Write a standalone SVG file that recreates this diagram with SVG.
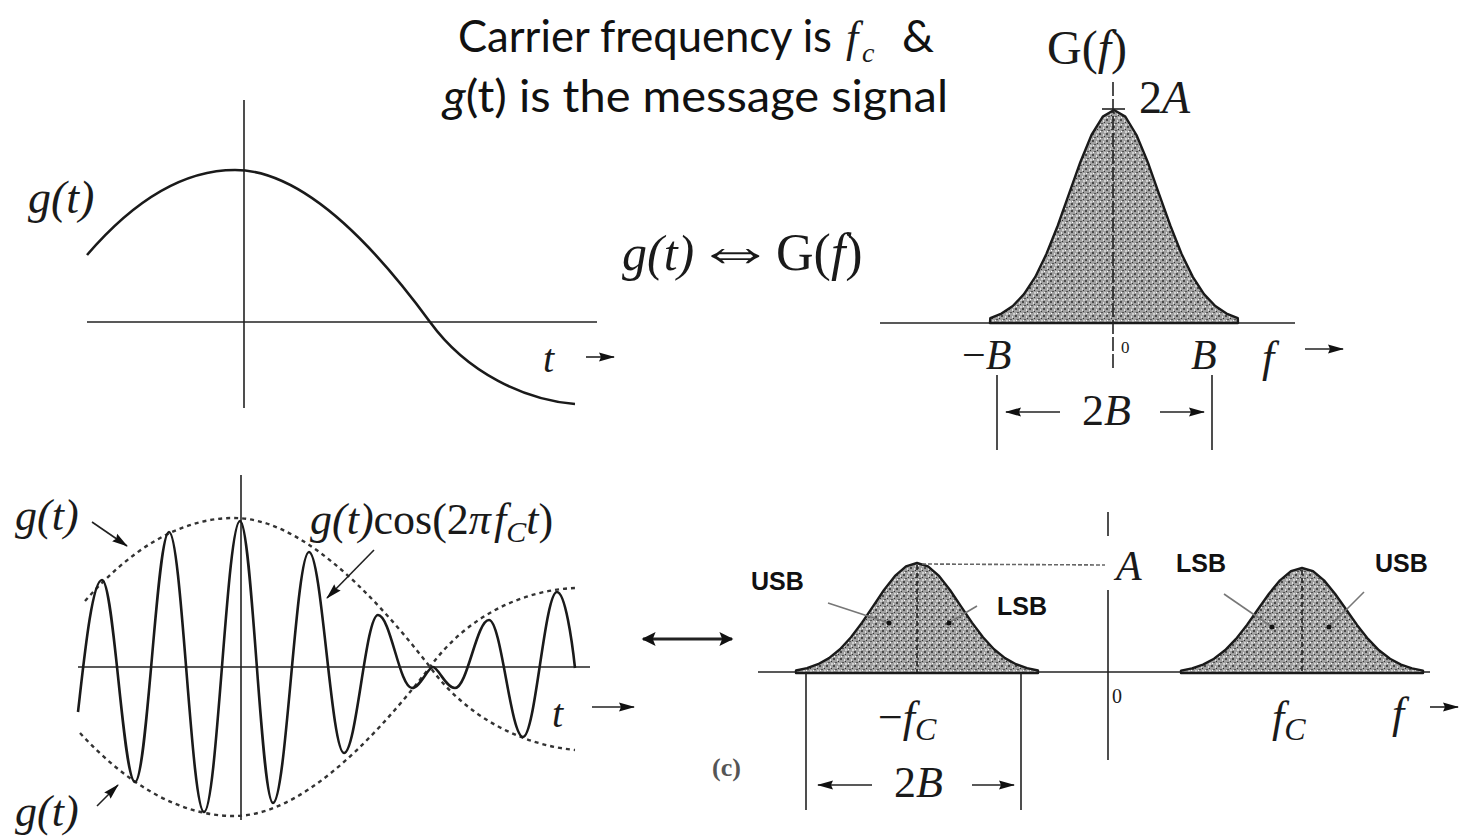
<svg xmlns="http://www.w3.org/2000/svg" width="1460" height="837" viewBox="0 0 1460 837">
<style>
.ax{stroke:#222;stroke-width:1.6;fill:none}
.crv{stroke:#1a1a1a;stroke-width:2.6;fill:none;stroke-linejoin:round}
.env{stroke:#333;stroke-width:2.4;fill:none;stroke-dasharray:4 4}
.hump{fill:url(#stip);stroke:#1a1a1a;stroke-width:2.4;stroke-linejoin:round}
.thin{stroke:#222;stroke-width:1.6;fill:none}
.ptr{stroke:#777;stroke-width:1.6;fill:none}
.mi{font-family:"Liberation Serif","DejaVu Serif",serif;font-style:italic;fill:#1a1a1a}
.mr{font-family:"Liberation Serif","DejaVu Serif",serif;fill:#1a1a1a}
.tt{font-family:Lato,"Open Sans","Liberation Sans",sans-serif;fill:#111}
.sb{font-family:"Liberation Sans",Arial,sans-serif;font-weight:bold;font-size:25px;fill:#111}
</style>
<defs>
<pattern id="stip" width="7" height="7" patternUnits="userSpaceOnUse">
<rect width="7" height="7" fill="#a0a0a0"/>
<rect x="0" y="0" width="2" height="2" fill="#4a4a4a"/>
<rect x="4" y="1" width="1" height="2" fill="#e2e2e2"/>
<rect x="2" y="4" width="2" height="1" fill="#555"/>
<rect x="5" y="5" width="2" height="2" fill="#d0d0d0"/>
<rect x="1" y="5" width="1" height="1" fill="#fff"/>
<rect x="5" y="3" width="1" height="1" fill="#333"/>
</pattern>
<marker id="ah" viewBox="0 0 16 10" refX="15" refY="5" markerWidth="16" markerHeight="10" orient="auto-start-reverse" markerUnits="userSpaceOnUse">
<path d="M0,0.5 L16,5 L0,9.5 L2,5 z" fill="#111"/>
</marker>
<marker id="ahb" viewBox="0 0 10 10" refX="9" refY="5" markerWidth="22" markerHeight="14" orient="auto-start-reverse" markerUnits="userSpaceOnUse">
<path d="M0,0 L10,5 L0,10 L2,5 z" fill="#111"/>
</marker>
</defs>
<rect width="1460" height="837" fill="#fff"/>

<g id="title">
<text class="tt" x="458" y="52" font-size="45" textLength="374" lengthAdjust="spacingAndGlyphs">Carrier frequency is</text>
<text class="mi" x="846" y="52" font-size="44">f</text>
<text class="mi" x="862" y="62" font-size="28">c</text>
<text class="tt" x="902" y="52" font-size="45">&amp;</text>
<text class="tt" x="443" y="112" font-size="45" textLength="505" lengthAdjust="spacingAndGlyphs"><tspan font-style="italic">g</tspan>(t) is the message signal</text>
</g>

<g id="message-signal">
<line class="ax" x1="244" y1="100" x2="244" y2="408"/>
<line class="ax" x1="87" y1="322" x2="597" y2="322"/>
<path class="crv" d="M87,255 C130,205 180,170 235,170 C300,170 370,240 430,322 C467,373 525,400 575,404"/>
<text class="mi" x="28" y="213" font-size="46">g(t)</text>
<text class="mi" x="543" y="372" font-size="40">t</text>
<line class="thin" x1="586" y1="357" x2="614" y2="357" marker-end="url(#ah)"/>
</g>

<g id="fourier-pair">
<text class="mi" x="622" y="270" font-size="50">g(t)</text>
<text class="mr" transform="translate(695,270) scale(1.35,1)" font-size="60">⇔</text>
<text class="mr" x="776" y="270" font-size="52">G(<tspan font-style="italic">f</tspan>)</text>
</g>

<g id="message-spectrum">
<line class="ax" x1="880" y1="323" x2="1295" y2="323"/>
<path class="hump" d="M990,323 L990.3,318.1 L1001.5,313.6 L1012.8,306.0 L1024,294.2 L1035.3,276.9 L1046.5,253.8 L1057.8,225.5 L1069,193.8 L1080.3,162.2 L1091.5,135.0 L1102.8,116.6 L1114,110 L1125.3,116.6 L1136.5,135.0 L1147.8,162.2 L1159,193.8 L1170.3,225.5 L1181.5,253.8 L1192.8,276.9 L1204,294.2 L1215.3,306.0 L1226.5,313.6 L1237.8,318.1 L1238,323 Z"/>
<line class="ax" x1="1113" y1="82" x2="1113" y2="368" stroke-dasharray="14 3"/>
<line class="ax" x1="1102" y1="109" x2="1125" y2="109"/>
<text class="mr" x="1047" y="64" font-size="48">G(<tspan font-style="italic">f</tspan>)</text>
<text class="mr" x="1139" y="113" font-size="46">2<tspan font-style="italic">A</tspan></text>
<text class="mr" x="962" y="369" font-size="42">−<tspan font-style="italic">B</tspan></text>
<text class="mr" x="1121" y="353" font-size="17">0</text>
<text class="mi" x="1191" y="369" font-size="42">B</text>
<text class="mi" x="1262" y="372" font-size="44">f</text>
<line class="thin" x1="1305" y1="349" x2="1343" y2="349" marker-end="url(#ah)"/>
<line class="ax" x1="997" y1="375" x2="997" y2="450"/>
<line class="ax" x1="1212" y1="375" x2="1212" y2="450"/>
<line class="thin" x1="1060" y1="412" x2="1006" y2="412" marker-end="url(#ah)"/>
<line class="thin" x1="1160" y1="412" x2="1204" y2="412" marker-end="url(#ah)"/>
<text class="mr" x="1082" y="425" font-size="44">2<tspan font-style="italic">B</tspan></text>
</g>

<g id="modulated-signal">
<line class="ax" x1="241" y1="475" x2="241" y2="820"/>
<line class="ax" x1="78" y1="667" x2="590" y2="667"/>
<path class="env" d="M85,601 C128,552 178,518 234,518 C298,518 368,587 430,667 C467,718 523,745 575,750"/>
<path class="env" d="M80,733 C125,782 178,816 234,816 C298,816 368,747 430,667 C467,616 523,590 575,588"/>
<path class="crv" d="M78,712 C84,660 92,580 102,580 C114,580 123,782 135,782 C147.4,782 156.6,532 169,532 C181.7,532 191.3,812 204,812 C217.1,812 226.9,521 240,521 C252,521 261,803 273,803 C286.1,803 295.9,552 309,552 C321.7,552 331.3,753 344,753 C356.4,753 365.6,615 378,615 C390.4,615 399.6,688 412,688 C420,688 428,667 433,667 C438,667 446,688 455,688 C467.4,688 476.6,620 489,620 C501.4,620 510.6,737 523,737 C535.4,737 544.6,592 557,592 C565,592 572,640 575,668"/>
<text class="mi" x="15" y="530" font-size="44">g(t)</text>
<line class="thin" x1="92" y1="522" x2="127" y2="546" marker-end="url(#ah)"/>
<text class="mi" x="15" y="826" font-size="44">g(t)</text>
<line class="thin" x1="97" y1="806" x2="118" y2="785" marker-end="url(#ah)"/>
<text class="mi" x="310" y="534" font-size="44">g(t)<tspan font-style="normal">cos(2</tspan>π<tspan dx="3">f</tspan><tspan font-size="30" dy="8">C</tspan><tspan dy="-8">t</tspan><tspan font-style="normal">)</tspan></text>
<line class="thin" x1="374" y1="550" x2="327" y2="598" marker-end="url(#ah)"/>
<text class="mi" x="552" y="727" font-size="40">t</text>
<line class="thin" x1="592" y1="707" x2="634" y2="707" marker-end="url(#ah)"/>
</g>

<g id="connectors">
<line stroke="#222" stroke-width="3" x1="643" y1="639" x2="732" y2="639" marker-start="url(#ahb)" marker-end="url(#ahb)"/>
</g>

<g id="modulated-spectrum">
<line class="ax" x1="758" y1="672" x2="1430" y2="672"/>
<path class="hump" d="M796,673 L796,670.5 L807,668.2 L818,664.2 L829,658.1 L840,649.2 L851,637.3 L862,622.6 L873,606.3 L884,590.0 L895,575.9 L906,566.4 L917,563 L928,566.4 L939,575.9 L950,590.0 L961,606.3 L972,622.6 L983,637.3 L994,649.2 L1005,658.1 L1016,664.2 L1027,668.2 L1038,670.5 L1038,673 Z"/>
<path class="hump" d="M1181,673 L1181,670.6 L1192,668.4 L1203,664.6 L1214,658.8 L1225,650.3 L1236,638.9 L1247,624.9 L1258,609.3 L1269,593.7 L1280,580.3 L1291,571.2 L1302,568 L1313,571.2 L1324,580.3 L1335,593.7 L1346,609.3 L1357,624.9 L1368,638.9 L1379,650.3 L1390,658.8 L1401,664.6 L1412,668.4 L1423,670.6 L1423,673 Z"/>
<line class="ax" x1="917" y1="565" x2="917" y2="672" stroke-dasharray="5 3"/>
<line class="ax" x1="1302" y1="570" x2="1302" y2="672" stroke-dasharray="5 3"/>
<line x1="922" y1="564" x2="1105" y2="565" stroke="#666" stroke-width="1.6" stroke-dasharray="4 2"/>
<line class="ax" x1="1108" y1="512" x2="1108" y2="536"/>
<line class="ax" x1="1108" y1="590" x2="1108" y2="760"/>
<text class="mi" x="1116" y="580" font-size="42">A</text>
<line class="ptr" x1="828" y1="603" x2="889" y2="623"/>
<line class="ptr" x1="977" y1="606" x2="950" y2="622"/>
<line class="ptr" x1="1224" y1="594" x2="1272" y2="627"/>
<line class="ptr" x1="1364" y1="592" x2="1329" y2="627"/>
<circle cx="889" cy="623" r="2.5" fill="#111"/>
<circle cx="949" cy="623" r="2.5" fill="#111"/>
<circle cx="1272" cy="627" r="2.5" fill="#111"/>
<circle cx="1329" cy="627" r="2.5" fill="#111"/>
<text class="sb" x="751" y="590">USB</text>
<text class="sb" x="997" y="615">LSB</text>
<text class="sb" x="1176" y="572">LSB</text>
<text class="sb" x="1375" y="572">USB</text>
<text class="mr" x="1112" y="703" font-size="20">0</text>
<text class="mr" x="878" y="732" font-size="44">−<tspan font-style="italic">f</tspan><tspan font-style="italic" font-size="32" dy="8">C</tspan></text>
<text class="mi" x="1272" y="732" font-size="44">f<tspan font-size="32" dy="8">C</tspan></text>
<text class="mi" x="1392" y="728" font-size="44">f</text>
<line class="thin" x1="1430" y1="707" x2="1458" y2="707" marker-end="url(#ah)"/>
<line class="ax" x1="806" y1="673" x2="806" y2="810"/>
<line class="ax" x1="1021" y1="673" x2="1021" y2="810"/>
<line class="thin" x1="872" y1="785" x2="818" y2="785" marker-end="url(#ah)"/>
<line class="thin" x1="972" y1="785" x2="1014" y2="785" marker-end="url(#ah)"/>
<text class="mr" x="894" y="797" font-size="44">2<tspan font-style="italic">B</tspan></text>
<text x="712" y="776" font-family="Liberation Serif,serif" font-weight="bold" font-size="26" fill="#555">(c)</text>
</g>
</svg>
